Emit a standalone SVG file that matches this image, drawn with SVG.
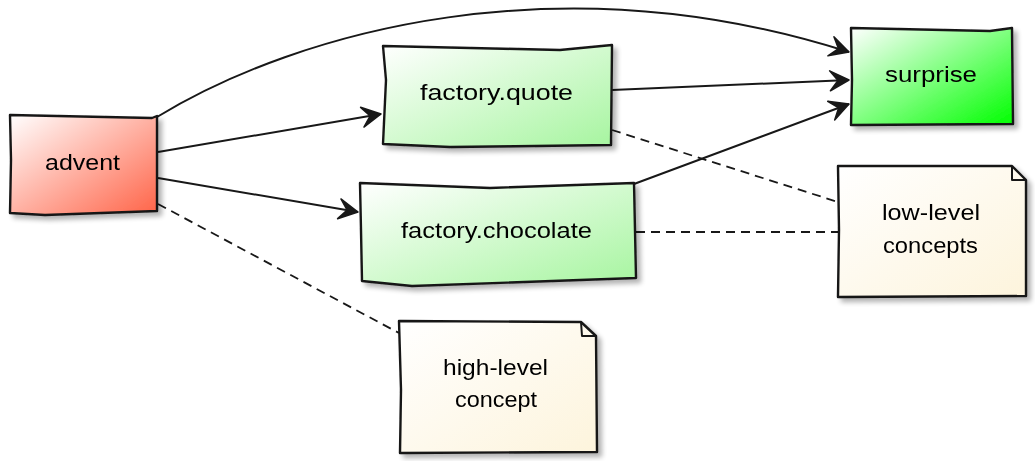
<svg xmlns="http://www.w3.org/2000/svg" width="1035" height="461" viewBox="0 0 1035 461">
<defs>
<linearGradient id="gRed" x1="0" y1="0" x2="1" y2="1"><stop offset="0" stop-color="#FFFFFF"/><stop offset="1" stop-color="#FF6347"/></linearGradient>
<linearGradient id="gLight" x1="0" y1="0" x2="1" y2="1"><stop offset="0" stop-color="#FFFFFF"/><stop offset="1" stop-color="#A6F59F"/></linearGradient>
<linearGradient id="gLime" x1="0" y1="0" x2="1" y2="1"><stop offset="0" stop-color="#FFFFFF"/><stop offset="1" stop-color="#00FF00"/></linearGradient>
<linearGradient id="gNote" x1="0" y1="0" x2="1" y2="1"><stop offset="0" stop-color="#FFFFFF"/><stop offset="1" stop-color="#FDF4DC"/></linearGradient>
<filter id="sh" x="-10%" y="-10%" width="130%" height="130%">
<feGaussianBlur in="SourceAlpha" stdDeviation="2.5"/>
<feOffset dx="4" dy="4" result="b"/>
<feComponentTransfer><feFuncA type="linear" slope="0.3"/></feComponentTransfer>
<feMerge><feMergeNode/><feMergeNode in="SourceGraphic"/></feMerge>
</filter>
<marker id="arr" markerUnits="userSpaceOnUse" markerWidth="30" markerHeight="30" viewBox="-24 -15 30 30" refX="0" refY="0" orient="auto">
<path d="M0,0 L-19,-10 L-11,0 L-19,10 Z" fill="#181818" stroke="#181818" stroke-width="1.5" stroke-linejoin="round"/>
</marker>
</defs>
<style>
.box{stroke:#181818;stroke-width:2.4;stroke-linejoin:round}
.lbl{font-family:"Liberation Sans","DejaVu Sans",sans-serif;font-size:22px;fill:#000;text-anchor:start}
.e{fill:none;stroke:#181818;stroke-width:2}
.d{fill:none;stroke:#181818;stroke-width:1.8;stroke-dasharray:9 6}
.fold{fill:none;stroke:#181818;stroke-width:2;stroke-linejoin:round}
</style>
<g id="connectors">
<path class="e" d="M157,117 C300,30 560,-40 849,52" marker-end="url(#arr)"/>
<path class="e" d="M158,152 L381,114" marker-end="url(#arr)"/>
<path class="e" d="M158,178 L358,212" marker-end="url(#arr)"/>
<path class="e" d="M612,90 L849,80" marker-end="url(#arr)"/>
<path class="e" d="M634,184 L849,104" marker-end="url(#arr)"/>
<path class="d" d="M612,130 L838,202"/>
<path class="d" d="M636,232 L838,232"/>
<path class="d" d="M158,204 L399,333"/>
</g>
<g id="advent" filter="url(#sh)">
<path class="box" fill="url(#gRed)" d="M10,115 L152,118 L157,116 L157,211 L45,215 L10,213 L11,160 Z"/>
<text class="lbl" x="45" y="170" textLength="75" lengthAdjust="spacingAndGlyphs">advent</text>
</g>
<g id="factory_quote" filter="url(#sh)">
<path class="box" fill="url(#gLight)" d="M383,46 L560,50 L612,45 L611,145 L450,147 L383,144 L386,80 Z"/>
<text class="lbl" x="420" y="100" textLength="153" lengthAdjust="spacingAndGlyphs">factory.quote</text>
</g>
<g id="factory_chocolate" filter="url(#sh)">
<path class="box" fill="url(#gLight)" d="M360,183 L490,188 L634,183 L636,278 L412,286 L362,281 L361,230 Z"/>
<text class="lbl" x="401" y="238" textLength="191" lengthAdjust="spacingAndGlyphs">factory.chocolate</text>
</g>
<g id="surprise" filter="url(#sh)">
<path class="box" fill="url(#gLime)" d="M851,28 L990,31 L1012,28 L1013,124 L851,125 L852,80 Z"/>
<text class="lbl" x="885" y="82" textLength="92" lengthAdjust="spacingAndGlyphs">surprise</text>
</g>
<g id="note_low" filter="url(#sh)">
<path class="box" fill="url(#gNote)" d="M838,166 L1012,166 L1026,180 L1026,296 L838,297 L839,230 Z"/>
<path class="fold" d="M1012,166 L1012,180 L1026,180"/>
<text class="lbl" x="882" y="220" textLength="98" lengthAdjust="spacingAndGlyphs">low-level</text>
<text class="lbl" x="883" y="253" textLength="95" lengthAdjust="spacingAndGlyphs">concepts</text>
</g>
<g id="note_high" filter="url(#sh)">
<path class="box" fill="url(#gNote)" d="M399,321 L581,322 L596,336 L597,452 L400,453 L401,390 Z"/>
<path class="fold" d="M581,322 L582,336 L596,336"/>
<text class="lbl" x="443" y="375" textLength="105" lengthAdjust="spacingAndGlyphs">high-level</text>
<text class="lbl" x="455" y="407" textLength="82" lengthAdjust="spacingAndGlyphs">concept</text>
</g>
</svg>
